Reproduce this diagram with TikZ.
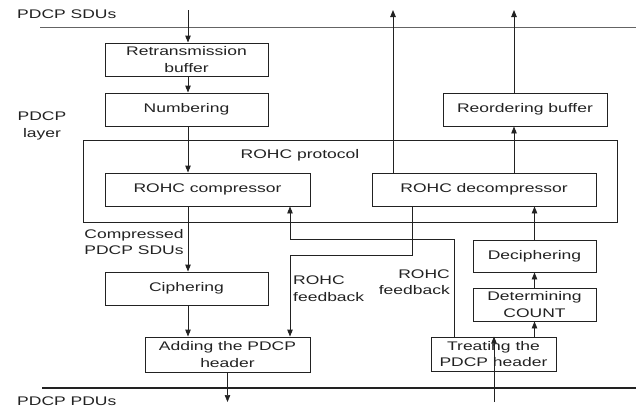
\documentclass[tikz,border=0pt]{standalone}
\usepackage{fontspec}
\setmainfont{Liberation Sans}[FakeStretch=1.4]
\usetikzlibrary{arrows.meta}
\definecolor{ink}{HTML}{222222}
\begin{document}
\begin{tikzpicture}[x=1pt,y=-1pt,
  every node/.style={font=\fontsize{12.5}{16.5}\selectfont, text=ink},
  blk/.style={draw=ink, line width=0.9pt, inner sep=0pt, align=center},
  lbl/.style={inner sep=0pt, align=center},
  flow/.style={draw=ink, line width=0.9pt, -{Triangle[length=7pt,width=5.5pt]}},
  wire/.style={draw=ink, line width=0.9pt}]
\useasboundingbox (0,0) rectangle (637,408);
% layer lines
\coordinate (tl) at (40,27); \coordinate (tr) at (636,27);
\coordinate (bl) at (42,388); \coordinate (br) at (636,388);
\draw[draw=ink!70, line width=0.8pt] (tl) -- (tr);
\draw[draw=ink, line width=1.1pt] (bl) -- (br);
% labels
\node[lbl, anchor=west] (sdus) at (17,14.5) {PDCP SDUs};
\node[lbl, anchor=west] (pdus) at (17,401) {PDCP PDUs};
\node[lbl] (layer) at (42,126) {PDCP\\layer};
\node[lbl] (prot) at (300,155) {ROHC protocol};
\node[lbl] (cs) at (134,242) {Compressed\\PDCP SDUs};
\node[lbl, align=left, anchor=west] (fbl) at (293,288.5) {ROHC\\feedback};
\node[lbl, align=right, anchor=east] (fbr) at (450,282) {ROHC\\feedback};
% outer box
\node[blk, minimum width=534pt, minimum height=82pt] (rohc) at (350,181) {};
% boxes
\node[blk, minimum width=163pt, minimum height=33pt] (retx) at (186.5,59.5) {Retransmission\\buffer};
\node[blk, minimum width=163pt, minimum height=33pt] (numb) at (186.5,109.5) {Numbering};
\node[blk, minimum width=205pt, minimum height=33pt] (comp) at (207.5,189.5) {ROHC compressor};
\node[blk, minimum width=224pt, minimum height=33pt] (decomp) at (484,189.5) {ROHC decompressor};
\node[blk, minimum width=164pt, minimum height=33pt] (reord) at (525,109.5) {Reordering buffer};
\node[blk, minimum width=163pt, minimum height=33pt] (ciph) at (186.5,288.5) {Ciphering};
\node[blk, minimum width=165pt, minimum height=35pt] (add) at (227.5,354.5) {Adding the PDCP\\header};
\node[blk, minimum width=125pt, minimum height=34pt] (treat) at (493.5,354) {Treating the\\PDCP header};
\node[blk, minimum width=123pt, minimum height=33pt] (detc) at (534.5,304.5) {Determining\\COUNT};
\node[blk, minimum width=123pt, minimum height=32pt] (deciph) at (534.5,256) {Deciphering};
% free ends
\coordinate (in1) at (188,10);
\coordinate (out1) at (393,10);
\coordinate (out2) at (514,10);
\coordinate (pdu1) at (227.5,402);
\coordinate (pdu2) at (494,402);
\coordinate (f1a) at (412,255); \coordinate (f1b) at (290,255);
\coordinate (f2a) at (454,239); \coordinate (f2b) at (290,239);
% transmit chain
\draw[flow] (in1) -- (in1 |- retx.north);
\draw[flow] (in1 |- retx.south) -- (in1 |- numb.north);
\draw[flow] (in1 |- numb.south) -- (in1 |- comp.north);
\draw[flow] (in1 |- comp.south) -- (in1 |- ciph.north);
\draw[flow] (in1 |- ciph.south) -- (in1 |- add.north);
\draw[flow, line width=0.6pt] (add.south) -- (pdu1);
% receive chain
\draw[flow] (pdu2) -- (pdu2 |- treat.north) ;
\draw[flow] (detc.south |- treat.north) -- (detc.south);
\draw[flow] (detc.north) -- (deciph.south);
\draw[flow] (deciph.north) -- (deciph.north |- decomp.south);
\draw[flow] (out2 |- decomp.north) -- (out2 |- reord.south);
\draw[flow] (out2 |- reord.north) -- (out2);
\draw[flow] (out1 |- decomp.north) -- (out1);
% feedback
\draw[flow] (f1a |- decomp.south) -- (f1a) -- (f1b) -- (f1b |- add.north);
\draw[flow] (f2a |- treat.north) -- (f2a) -- (f2b) -- (f2b |- comp.south);
\end{tikzpicture}
\end{document}
